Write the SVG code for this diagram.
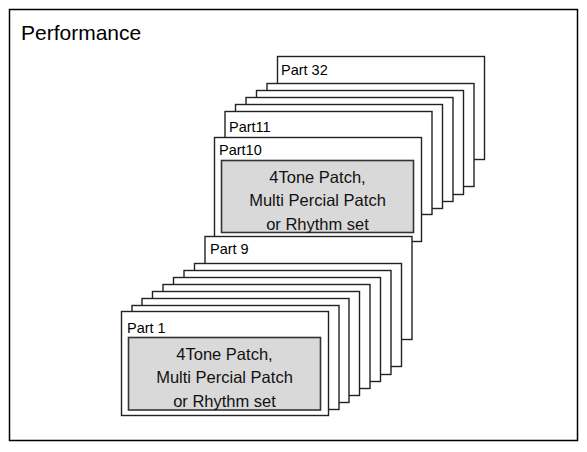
<svg xmlns="http://www.w3.org/2000/svg" width="587" height="452" viewBox="0 0 587 452">
<style>
.frame{fill:#fff;stroke:#000;stroke-width:1.5}
.card{fill:#fff;stroke:#222;stroke-width:1.4}
.inner{fill:#d9d9d9;stroke:#333;stroke-width:1.6}
.lbl{font-family:"Liberation Sans",Arial,sans-serif;font-size:14.5px;fill:#000}
.body{font-family:"Liberation Sans",Arial,sans-serif;font-size:16.5px;fill:#111;text-anchor:middle}
.title{font-family:"Liberation Sans",Arial,sans-serif;font-size:21px;fill:#000}
</style>
<rect class="frame" x="9.5" y="9.5" width="568" height="431"/>
<text class="title" x="21" y="40">Performance</text>
<g id="part32"><rect class="card" x="277.5" y="56.5" width="207" height="103"/><text class="lbl" x="281" y="75">Part 32</text></g>
<g id="part31"><rect class="card" x="267" y="83.5" width="207" height="103"/></g>
<g id="part30"><rect class="card" x="256.5" y="90.5" width="207" height="104"/></g>
<g id="part29"><rect class="card" x="246" y="97.5" width="207" height="104"/></g>
<g id="part28"><rect class="card" x="235.5" y="104.5" width="207" height="104"/></g>
<g id="part11"><rect class="card" x="225" y="111.5" width="207" height="103"/><text class="lbl" x="229" y="131.5">Part11</text></g>
<g id="part10"><rect class="card" x="214.5" y="137.5" width="207" height="104"/><text class="lbl" x="219" y="155">Part10</text>
<rect class="inner" x="221.5" y="160.5" width="192" height="72"/>
<text class="body" x="317.5" y="182.5">4Tone Patch,</text>
<text class="body" x="317.5" y="206">Multi Percial Patch</text>
<text class="body" x="317.5" y="229.5">or Rhythm set</text></g>
<g id="part9"><rect class="card" x="205" y="236.5" width="207" height="103"/><text class="lbl" x="210" y="253.5">Part 9</text></g>
<g id="part8"><rect class="card" x="194.5" y="263.5" width="207" height="103"/></g>
<g id="part7"><rect class="card" x="184" y="270.5" width="207" height="104"/></g>
<g id="part6"><rect class="card" x="173.5" y="277.5" width="207" height="104"/></g>
<g id="part5"><rect class="card" x="163" y="284.5" width="207" height="104"/></g>
<g id="part4"><rect class="card" x="152.5" y="291.5" width="207" height="104"/></g>
<g id="part3"><rect class="card" x="142" y="298.5" width="207" height="104"/></g>
<g id="part2"><rect class="card" x="132" y="305.5" width="207" height="104"/></g>
<g id="part1"><rect class="card" x="121.5" y="311.5" width="207" height="104"/><text class="lbl" x="127" y="332.5">Part 1</text>
<rect class="inner" x="128.5" y="337.5" width="192" height="72.5"/>
<text class="body" x="224.5" y="359.5">4Tone Patch,</text>
<text class="body" x="224.5" y="383">Multi Percial Patch</text>
<text class="body" x="224.5" y="406.5">or Rhythm set</text></g>
</svg>
